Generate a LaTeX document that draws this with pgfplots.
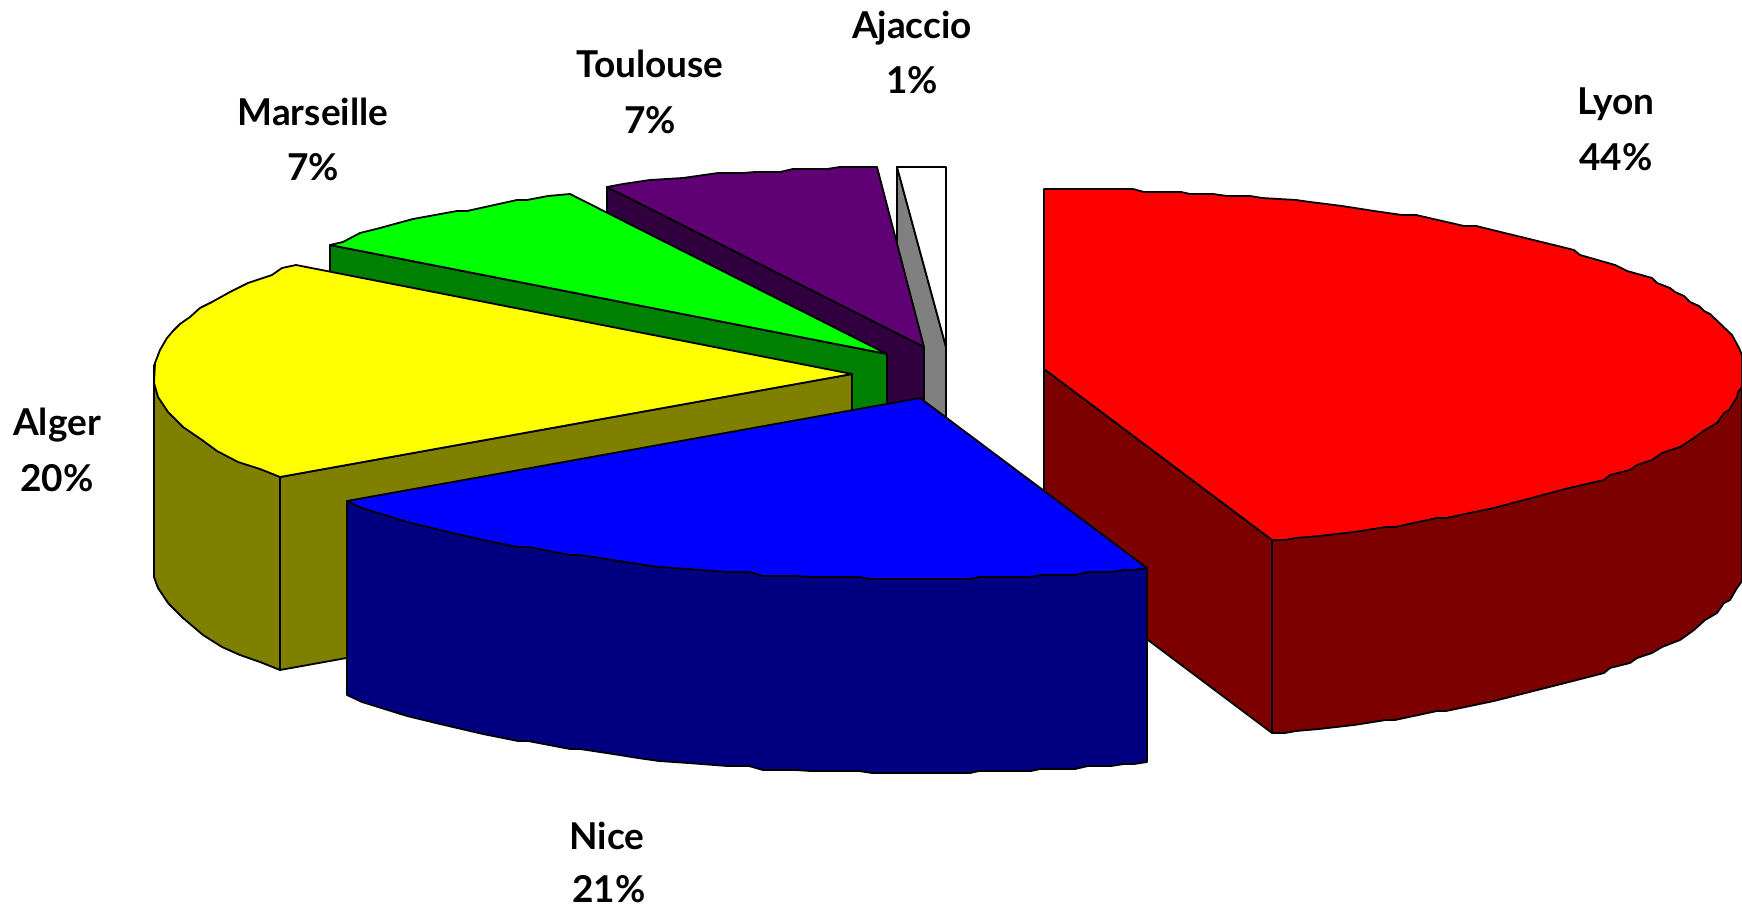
\documentclass[border=0pt]{standalone}
\usepackage{fontspec}
\setmainfont{Lato}
\usepackage{pgfplots}
\pgfplotsset{compat=1.18}
\definecolor{lyonT}{HTML}{FF0000}
\definecolor{lyonS}{HTML}{7C0000}
\definecolor{niceT}{HTML}{0000FF}
\definecolor{niceS}{HTML}{000080}
\definecolor{algerT}{HTML}{FFFF00}
\definecolor{algerS}{HTML}{808000}
\definecolor{marsT}{HTML}{00FF00}
\definecolor{marsS}{HTML}{008000}
\definecolor{toulT}{HTML}{5F0074}
\definecolor{toulS}{HTML}{30003F}
\definecolor{ajacS}{HTML}{808080}
\tikzset{lbl/.style={font=\fontsize{18.5}{22}\selectfont\bfseries, text=black, inner sep=0pt}}
\begin{document}
\begin{tikzpicture}
\path[use as bounding box] (0pt,0pt) rectangle (871pt,454pt);
\begin{axis}[
    scale only axis,
    width=871pt, height=454pt,
    xmin=0, xmax=1742, ymin=0, ymax=908,
    y dir=reverse,
    hide axis,
    every axis plot/.append style={draw=black, line width=0.9pt, line join=round},
  ]
  % Ajaccio
  \addplot[fill=ajacS] coordinates {(897,167) (946,347) (946,540) (897,360)} -- cycle;
  \addplot[fill=white] coordinates {(897,167) (946,167) (946,347)} -- cycle;
  % Toulouse
  \addplot[fill=toulS] coordinates {(607,187) (924,347) (924,541) (607,381)} -- cycle;
  \addplot[fill=toulT] coordinates {(607,187) (623,184) (650,180) (683,178) (718,173) (743,173) (755,172)
    (780,172) (793,169) (827,169) (840,167) (877,167) (924,347)} -- cycle;
  % Marseille
  \addplot[fill=marsS] coordinates {(330,245) (887,354) (887,547) (330,438)} -- cycle;
  \addplot[fill=marsT] coordinates {(330,245) (343,242) (360,233) (380,228) (413,219) (457,211) (467,211)
    (517,200) (527,200) (548,196) (570,194) (887,354)} -- cycle;
  % Alger
  \addplot[fill=algerS] coordinates {(280,477) (852,374) (852,567) (280,670)} -- cycle;
  \addplot[fill=algerS] coordinates {(154,365) (154,577) (158,588) (168,603) (183,618) (203,635) (222,647)
    (240,655) (260,662) (280,670) (280,477)} -- cycle;
  \addplot[fill=algerT] coordinates {(296,265) (282,268) (272,275) (248,283) (230,292) (212,302) (200,308)
    (190,317) (180,324) (173,331) (167,338) (160,350) (155,363) (154,383) (158,397) (168,412) (183,427)
    (202,440) (217,451) (238,462) (260,469) (280,477) (852,374)} -- cycle;
  % Lyon
  \addplot[fill=lyonS] coordinates {(1044,369) (1272,540) (1272,733) (1044,562)} -- cycle;
  \addplot[fill=lyonS] coordinates {(1272,540) (1742,387) (1742,581) (1737,588) (1730,600) (1724,603)
    (1717,613) (1705,620) (1694,630) (1680,640) (1662,647) (1652,653) (1637,658) (1630,663) (1610,668)
    (1604,673) (1569,682) (1494,701) (1446,711) (1437,711) (1395,720) (1386,720) (1354,725) (1319,729)
    (1296,731) (1285,733) (1272,733)} -- cycle;
  \addplot[fill=lyonT] coordinates {(1044,189) (1133,189) (1144,192) (1181,192) (1190,194) (1213,194)
    (1227,196) (1250,196) (1262,198) (1296,200) (1310,202) (1342,206) (1374,211) (1402,215) (1416,215)
    (1464,226) (1476,226) (1562,247) (1574,250) (1580,255) (1615,265) (1627,271) (1652,278) (1657,283)
    (1670,288) (1675,292) (1684,296) (1690,302) (1699,306) (1704,311) (1710,314) (1732,335) (1739,348)
    (1742,355) (1742,387) (1738,392) (1737,397) (1729,410) (1724,413) (1717,423) (1705,430) (1694,438)
    (1680,447) (1662,453) (1652,460) (1637,465) (1630,470) (1610,475) (1604,480) (1569,488) (1494,508)
    (1446,518) (1437,518) (1395,527) (1386,527) (1354,532) (1319,536) (1296,538) (1285,540) (1272,540)
    (1044,369)} -- cycle;
  % Nice
  \addplot[fill=niceS] coordinates {(347,501) (1147,568) (1147,762) (1134,764) (1124,764) (1111,766)
    (1088,766) (1075,769) (1040,769) (1031,771) (979,771) (970,773) (872,773) (859,771) (811,771)
    (795,770) (763,770) (749,766) (727,766) (688,763) (659,761) (638,758) (613,754) (580,749) (570,749)
    (528,741) (518,741) (483,734) (440,724) (407,716) (362,702) (347,695)} -- cycle;
  \addplot[fill=niceT] coordinates {(920,398) (1147,568) (1134,570) (1124,570) (1111,572) (1088,572)
    (1075,575) (1040,575) (1031,577) (979,577) (970,579) (872,579) (859,577) (811,577) (795,576) (763,576)
    (749,572) (727,572) (688,569) (659,567) (638,564) (613,560) (580,555) (570,555) (528,547) (518,547)
    (483,540) (440,530) (407,522) (362,508) (347,501)} -- cycle;
  % labels
  \node[lbl] at (912,28) {Ajaccio};
  \node[lbl] at (912,80) {1\%};
  \node[lbl] at (650,64) {Toulouse};
  \node[lbl] at (650,120) {7\%};
  \node[lbl] at (313,112) {Marseille};
  \node[lbl] at (313,167) {7\%};
  \node[lbl] at (1616,104) {Lyon};
  \node[lbl] at (1616,157) {44\%};
  \node[lbl] at (57,425) {Alger};
  \node[lbl] at (57,478) {20\%};
  \node[lbl] at (607,836) {Nice};
  \node[lbl] at (609,889) {21\%};
\end{axis}
\end{tikzpicture}
\end{document}
